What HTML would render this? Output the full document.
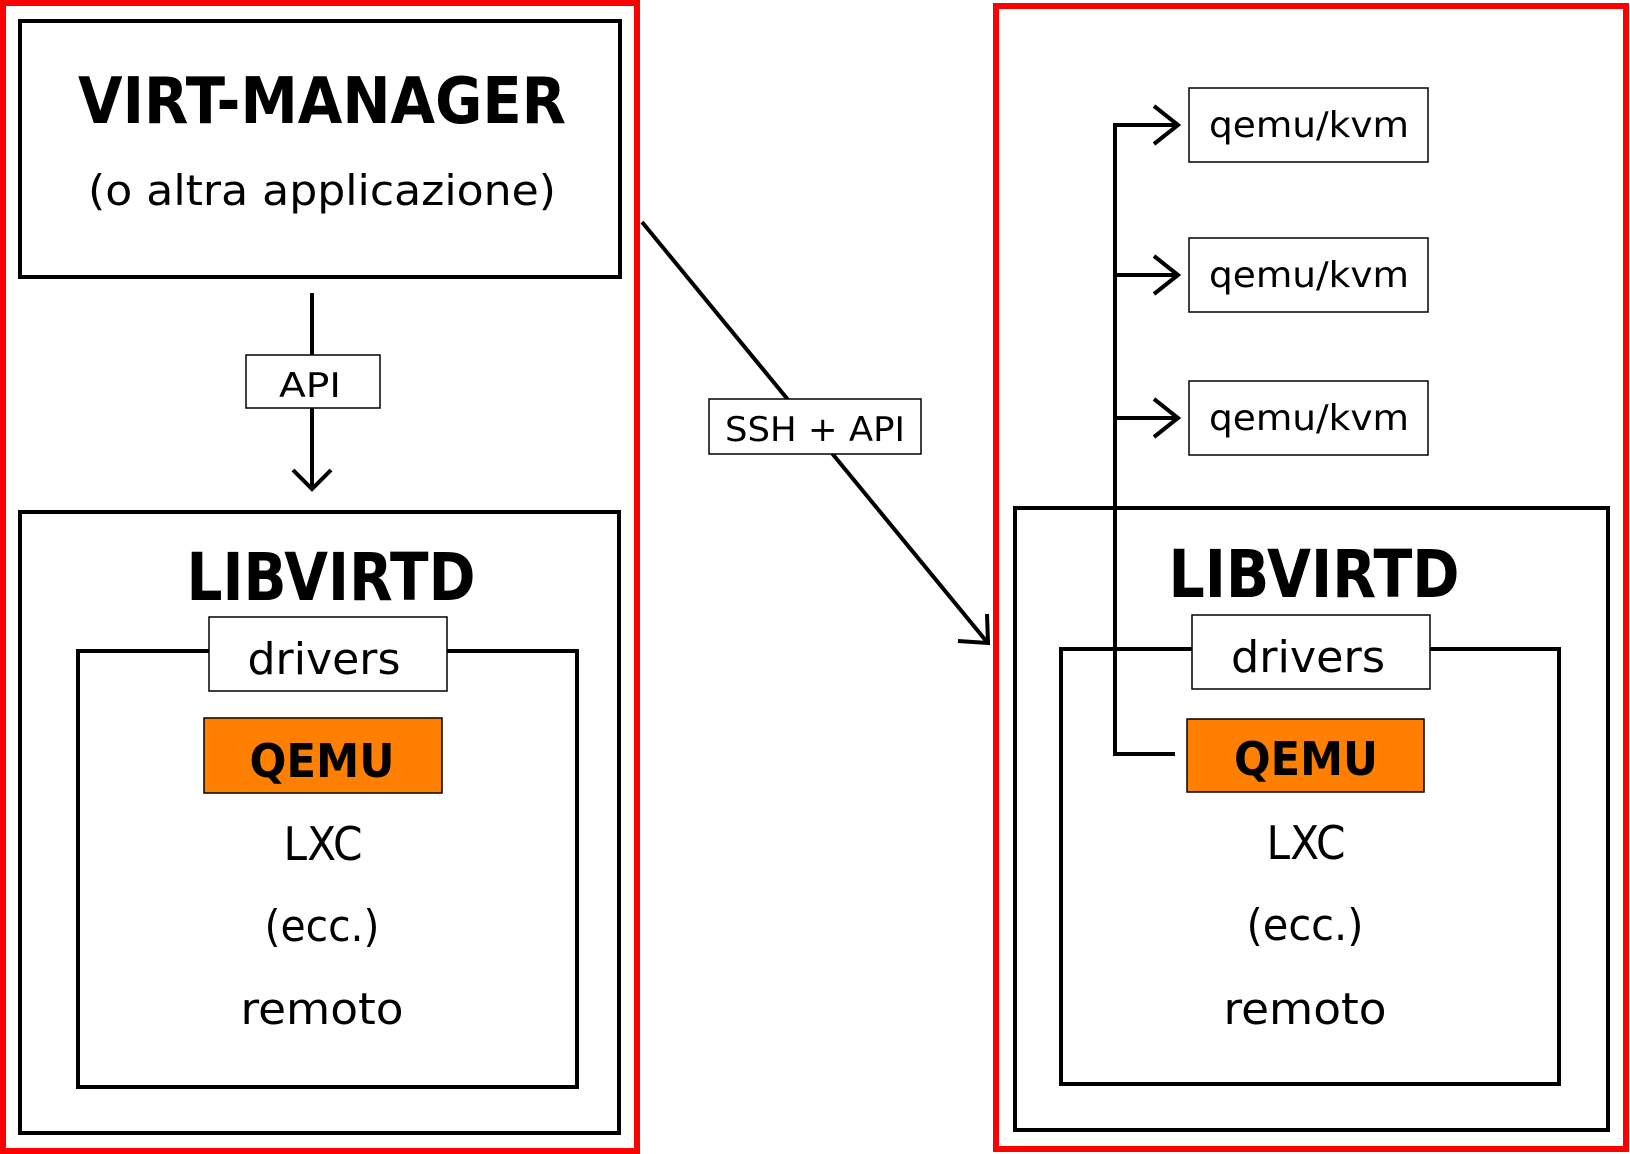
<!DOCTYPE html>
<html><head><meta charset="utf-8"><style>html,body{margin:0;padding:0;background:#fff}svg{display:block}</style></head>
<body>
<svg width="1630" height="1154" viewBox="0 0 1630 1154" xmlns="http://www.w3.org/2000/svg" font-family="'DejaVu Sans','Liberation Sans',sans-serif" text-anchor="middle">
<g fill="none" stroke="#f00" stroke-width="6">
<rect x="3" y="3" width="634" height="1148"/>
<rect x="996" y="6" width="630" height="1143"/>
</g>
<g fill="none" stroke="#000" stroke-width="4">
<rect x="20" y="21" width="600" height="256"/>
<rect x="20" y="512" width="599" height="621"/>
<rect x="78" y="651" width="499" height="436"/>
<rect x="1015" y="508" width="593" height="622"/>
<rect x="1061" y="649" width="498" height="435"/>
<line x1="312" y1="293" x2="312" y2="489"/>
<polyline points="293,470 312,489 331,470"/>
<line x1="642" y1="222" x2="987" y2="642"/>
<polyline points="958,641 988,643 987,614"/>
<polyline points="1175,754 1115,754 1115,125 1178,125"/>
<line x1="1115" y1="275" x2="1178" y2="275"/>
<line x1="1115" y1="418" x2="1178" y2="418"/>
<polyline points="1154,106 1178,125 1154,144"/>
<polyline points="1154,256 1178,275 1154,294"/>
<polyline points="1154,399 1178,418 1154,437"/>
</g>
<g fill="#fff" stroke="#000" stroke-width="1.5">
<rect x="246" y="355" width="134" height="53"/>
<rect x="709" y="399" width="212" height="55"/>
<rect x="209" y="617" width="238" height="74"/>
<rect x="1192" y="615" width="238" height="74"/>
<rect x="1189" y="88" width="239" height="74"/>
<rect x="1189" y="238" width="239" height="74"/>
<rect x="1189" y="381" width="239" height="74"/>
<rect x="204" y="718" width="238" height="75" fill="#ff8000"/>
<rect x="1187" y="719" width="237" height="73" fill="#ff8000"/>
</g>
<g fill="#000">
<text x="322" y="123" font-size="64" font-weight="bold" textLength="488" lengthAdjust="spacingAndGlyphs">VIRT-MANAGER</text>
<text x="322" y="205" font-size="42" textLength="468" lengthAdjust="spacingAndGlyphs">(o altra applicazione)</text>
<text x="310" y="397" font-size="34" textLength="62" lengthAdjust="spacingAndGlyphs">API</text>
<text x="815" y="441" font-size="34" textLength="180" lengthAdjust="spacingAndGlyphs">SSH + API</text>
<text x="331" y="600" font-size="66" font-weight="bold" textLength="289" lengthAdjust="spacingAndGlyphs">LIBVIRTD</text>
<text x="324" y="674" font-size="44" textLength="153" lengthAdjust="spacingAndGlyphs">drivers</text>
<text x="322" y="777" font-size="46" font-weight="bold" textLength="145" lengthAdjust="spacingAndGlyphs">QEMU</text>
<text x="323" y="860" font-size="46" textLength="79" lengthAdjust="spacingAndGlyphs">LXC</text>
<text x="322" y="941" font-size="44" textLength="115" lengthAdjust="spacingAndGlyphs">(ecc.)</text>
<text x="322" y="1024" font-size="44" textLength="163" lengthAdjust="spacingAndGlyphs">remoto</text>
<text x="1314" y="597" font-size="66" font-weight="bold" textLength="291" lengthAdjust="spacingAndGlyphs">LIBVIRTD</text>
<text x="1308" y="672" font-size="44" textLength="154" lengthAdjust="spacingAndGlyphs">drivers</text>
<text x="1306" y="775" font-size="46" font-weight="bold" textLength="144" lengthAdjust="spacingAndGlyphs">QEMU</text>
<text x="1306" y="859" font-size="46" textLength="79" lengthAdjust="spacingAndGlyphs">LXC</text>
<text x="1305" y="940" font-size="44" textLength="117" lengthAdjust="spacingAndGlyphs">(ecc.)</text>
<text x="1305" y="1024" font-size="44" textLength="163" lengthAdjust="spacingAndGlyphs">remoto</text>
<text x="1309" y="137" font-size="36" textLength="200" lengthAdjust="spacingAndGlyphs">qemu/kvm</text>
<text x="1309" y="287" font-size="36" textLength="200" lengthAdjust="spacingAndGlyphs">qemu/kvm</text>
<text x="1309" y="430" font-size="36" textLength="200" lengthAdjust="spacingAndGlyphs">qemu/kvm</text>
</g>
</svg>
</body></html>
